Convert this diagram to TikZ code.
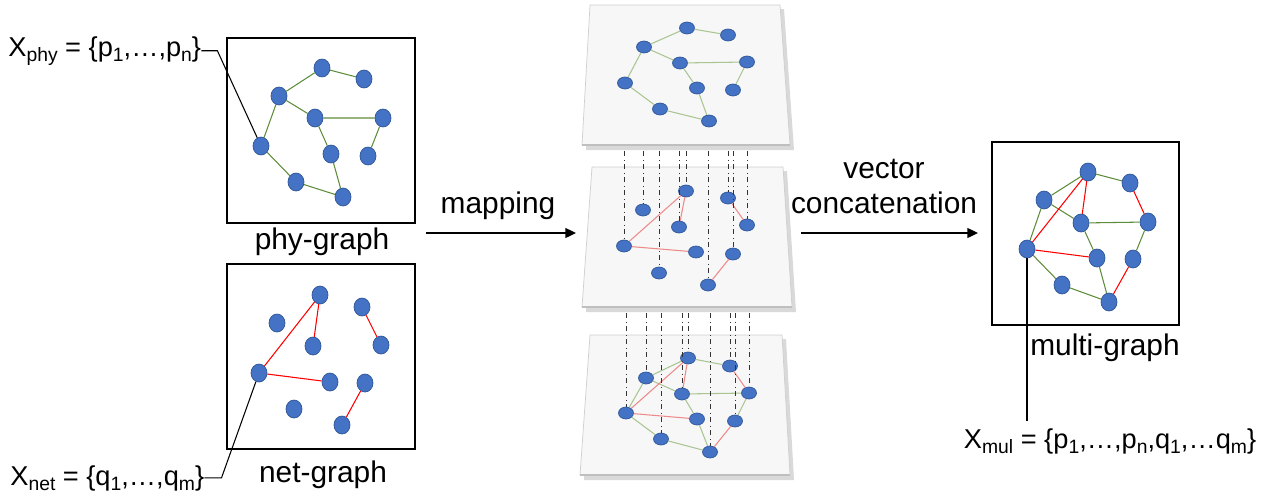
\documentclass[tikz,border=0pt]{standalone}
\usepackage{fontspec}
\setmainfont{Liberation Sans}
\usepackage{tikz}
\usetikzlibrary{arrows.meta}
\usetikzlibrary{shapes.geometric}

\definecolor{nodeblue}{HTML}{4472C4}
\definecolor{nodeedge}{HTML}{2F5597}
\definecolor{phygreen}{HTML}{5E8C3A}
\definecolor{palegreen}{HTML}{A8C592}
\definecolor{netred}{HTML}{FF0000}
\definecolor{palered}{HTML}{EE8A8A}
\definecolor{sheet}{HTML}{F7F7F7}
\definecolor{sheetedge}{HTML}{CFCFCF}

\newcommand{\lowidx}[1]{\raisebox{-3pt}{\fontsize{11}{11}\selectfont #1}}

\begin{document}
\begin{tikzpicture}[x=0.02cm, y=-0.02cm,
  paths/.style={-{Triangle[length=6pt, width=5.5pt]}, line width=1.1pt},
  vertex/.style={ellipse, fill=nodeblue, draw=nodeedge, line width=0.4pt,
    minimum width=0.32cm, minimum height=0.36cm, inner sep=0pt},
  flat_vertex/.style={vertex, minimum width=0.3cm, minimum height=0.24cm},
  phy_edge/.style={phygreen, line width=0.6pt},
  net_edge/.style={netred, line width=0.6pt},
  pale_phy/.style={palegreen, line width=0.6pt},
  pale_net/.style={palered, line width=0.6pt},
  mapping_line/.style={dash dot, line width=0.5pt, black!80},
  label_line/.style={line width=0.6pt},
  big_text/.style={font=\fontsize{17}{20}\selectfont, inner sep=0pt},
  set_text/.style={font=\fontsize{15.5}{18}\selectfont, inner sep=0pt}]

 \useasboundingbox (0,0) rectangle (1266,497);

 % sheets
 \fill [black!15] (594,9) -- (784,9) -- (794,150) -- (586,150) -- cycle;
 \fill [sheet, draw=sheetedge] (590,5) -- (780,5) -- (790,145) -- (582,145) -- cycle;
 \draw [black!25, line width=1.5pt] (582,145) -- (790,145);
 \fill [black!15] (596,171) -- (787,171) -- (796,312) -- (586,312) -- cycle;
 \fill [sheet, draw=sheetedge] (592,167) -- (783,167) -- (792,307) -- (582,307) -- cycle;
 \draw [black!25, line width=1.5pt] (582,307) -- (792,307);
 \fill [black!15] (594,339) -- (786,339) -- (794,480) -- (584,480) -- cycle;
 \fill [sheet, draw=sheetedge] (590,335) -- (782,335) -- (790,475) -- (580,475) -- cycle;
 \draw [black!25, line width=1.5pt] (580,475) -- (790,475);

 \coordinate (gap_1) at (0,151);
 \coordinate (gap_2) at (0,313);

 % boxes
 \draw [label_line] (227,38) rectangle (415,223);
 \draw [label_line] (227,264) rectangle (415,449);
 \draw [label_line] (992,142) rectangle (1179,325);

 % phy-graph
 \node [vertex] (phy_1) at (322,68) {};
 \node [vertex] (phy_2) at (364,79) {};
 \node [vertex] (phy_3) at (279,96) {};
 \node [vertex] (phy_4) at (315,118) {};
 \node [vertex] (phy_5) at (383,118) {};
 \node [vertex] (phy_6) at (261,146) {};
 \node [vertex] (phy_7) at (331,154) {};
 \node [vertex] (phy_8) at (368,156) {};
 \node [vertex] (phy_9) at (296,182) {};
 \node [vertex] (phy_10) at (343,197) {};

 % net-graph
 \node [vertex] (net_1) at (320,295) {};
 \node [vertex] (net_2) at (362,307) {};
 \node [vertex] (net_3) at (277,323) {};
 \node [vertex] (net_4) at (313,346) {};
 \node [vertex] (net_5) at (381,345) {};
 \node [vertex] (net_6) at (259,373) {};
 \node [vertex] (net_7) at (330,382) {};
 \node [vertex] (net_8) at (365,383) {};
 \node [vertex] (net_9) at (294,409) {};
 \node [vertex] (net_10) at (342,425) {};

 % multi-graph
 \node [vertex] (mul_1) at (1088,172) {};
 \node [vertex] (mul_2) at (1130,183) {};
 \node [vertex] (mul_3) at (1044,200) {};
 \node [vertex] (mul_4) at (1081,223) {};
 \node [vertex] (mul_5) at (1148,222) {};
 \node [vertex] (mul_6) at (1027,249) {};
 \node [vertex] (mul_7) at (1097,258) {};
 \node [vertex] (mul_8) at (1133,259) {};
 \node [vertex] (mul_9) at (1062,285) {};
 \node [vertex] (mul_10) at (1109,302) {};

 % top sheet
 \node [flat_vertex] (top_1) at (687,28) {};
 \node [flat_vertex] (top_2) at (728,35) {};
 \node [flat_vertex] (top_3) at (644,47) {};
 \node [flat_vertex] (top_4) at (680,63) {};
 \node [flat_vertex] (top_5) at (747,62) {};
 \node [flat_vertex] (top_6) at (625,83) {};
 \node [flat_vertex] (top_7) at (697,88) {};
 \node [flat_vertex] (top_8) at (733,90) {};
 \node [flat_vertex] (top_9) at (660,109) {};
 \node [flat_vertex] (top_10) at (709,121) {};

 % middle sheet
 \node [flat_vertex] (mid_1) at (686,191) {};
 \node [flat_vertex] (mid_2) at (728,198) {};
 \node [flat_vertex] (mid_3) at (643,210) {};
 \node [flat_vertex] (mid_4) at (679,227) {};
 \node [flat_vertex] (mid_5) at (747,225) {};
 \node [flat_vertex] (mid_6) at (624,246) {};
 \node [flat_vertex] (mid_7) at (696,252) {};
 \node [flat_vertex] (mid_8) at (733,254) {};
 \node [flat_vertex] (mid_9) at (659,273) {};
 \node [flat_vertex] (mid_10) at (708,285) {};

 % bottom sheet
 \node [flat_vertex] (bot_1) at (688,358) {};
 \node [flat_vertex] (bot_2) at (730,366) {};
 \node [flat_vertex] (bot_3) at (646,378) {};
 \node [flat_vertex] (bot_4) at (682,394) {};
 \node [flat_vertex] (bot_5) at (749,393) {};
 \node [flat_vertex] (bot_6) at (626,413) {};
 \node [flat_vertex] (bot_7) at (697,419) {};
 \node [flat_vertex] (bot_8) at (735,421) {};
 \node [flat_vertex] (bot_9) at (661,439) {};
 \node [flat_vertex] (bot_10) at (710,452) {};

 \draw [phy_edge] (phy_1) -- (phy_2) (phy_3) -- (phy_1) (phy_3) -- (phy_4)
   (phy_4) -- (phy_5) (phy_5) -- (phy_8) (phy_4) -- (phy_7) (phy_7) -- (phy_10)
   (phy_3) -- (phy_6) (phy_6) -- (phy_9) (phy_9) -- (phy_10);
 \draw [net_edge] (net_6) -- (net_1) (net_1) -- (net_4) (net_2) -- (net_5)
   (net_6) -- (net_7) (net_8) -- (net_10);
 \draw [phy_edge] (mul_1) -- (mul_2) (mul_3) -- (mul_1) (mul_3) -- (mul_4)
   (mul_4) -- (mul_5) (mul_5) -- (mul_8) (mul_4) -- (mul_7) (mul_7) -- (mul_10)
   (mul_3) -- (mul_6) (mul_6) -- (mul_9) (mul_9) -- (mul_10);
 \draw [net_edge] (mul_6) -- (mul_1) (mul_1) -- (mul_4) (mul_2) -- (mul_5)
   (mul_6) -- (mul_7) (mul_8) -- (mul_10);
 \draw [pale_phy] (top_1) -- (top_2) (top_3) -- (top_1) (top_3) -- (top_4)
   (top_4) -- (top_5) (top_5) -- (top_8) (top_4) -- (top_7) (top_7) -- (top_10)
   (top_3) -- (top_6) (top_6) -- (top_9) (top_9) -- (top_10);
 \draw [pale_net] (mid_6) -- (mid_1) (mid_1) -- (mid_4) (mid_2) -- (mid_5)
   (mid_6) -- (mid_7) (mid_8) -- (mid_10);
 \draw [pale_phy] (bot_1) -- (bot_2) (bot_3) -- (bot_1) (bot_3) -- (bot_4)
   (bot_4) -- (bot_5) (bot_5) -- (bot_8) (bot_4) -- (bot_7) (bot_7) -- (bot_10)
   (bot_3) -- (bot_6) (bot_6) -- (bot_9) (bot_9) -- (bot_10);
 \draw [pale_net] (bot_6) -- (bot_1) (bot_1) -- (bot_4) (bot_2) -- (bot_5)
   (bot_6) -- (bot_7) (bot_8) -- (bot_10);

 \draw [mapping_line] (mid_6 |- gap_1) -- (mid_6);
 \draw [mapping_line] (mid_3 |- gap_1) -- (mid_3);
 \draw [mapping_line] (mid_9 |- gap_1) -- (mid_9);
 \draw [mapping_line] (mid_4 |- gap_1) -- (mid_4);
 \draw [mapping_line] (mid_1 |- gap_1) -- (mid_1);
 \draw [mapping_line] (mid_10 |- gap_1) -- (mid_10);
 \draw [mapping_line] (mid_2 |- gap_1) -- (mid_2);
 \draw [mapping_line] (mid_8 |- gap_1) -- (mid_8);
 \draw [mapping_line] (mid_5 |- gap_1) -- (mid_5);
 \draw [mapping_line] (bot_6 |- gap_2) -- (bot_6);
 \draw [mapping_line] (bot_3 |- gap_2) -- (bot_3);
 \draw [mapping_line] (bot_9 |- gap_2) -- (bot_9);
 \draw [mapping_line] (bot_4 |- gap_2) -- (bot_4);
 \draw [mapping_line] (bot_1 |- gap_2) -- (bot_1);
 \draw [mapping_line] (bot_10 |- gap_2) -- (bot_10);
 \draw [mapping_line] (bot_2 |- gap_2) -- (bot_2);
 \draw [mapping_line] (bot_8 |- gap_2) -- (bot_8);
 \draw [mapping_line] (bot_5 |- gap_2) -- (bot_5);

 % texts
 \node [big_text, anchor=base] (phy_name) at (322,249) {phy-graph};
 \node [big_text, anchor=base] (net_name) at (323,482) {net-graph};
 \node [big_text, anchor=base] (mul_name) at (1105,355) {multi-graph};
 \node [big_text, anchor=base] (map_name) at (498,213) {mapping};
 \node [big_text, anchor=base] (vec_name) at (884,178) {vector};
 \node [big_text, anchor=base] (cat_name) at (884,213) {concatenation};

 \node [set_text, anchor=base west] (x_phy) at (8,56)
     {X\lowidx{phy} = \{p\lowidx{1},…,p\lowidx{n}\}};
 \node [set_text, anchor=base west] (x_net) at (10,485)
     {X\lowidx{net} = \{q\lowidx{1},…,q\lowidx{m}\}};
 \node [set_text, anchor=base] (x_mul) at (1110,448)
     {X\lowidx{mul} = \{p\lowidx{1},…,p\lowidx{n},q\lowidx{1},…q\lowidx{m}\}};

 \draw [label_line] (x_phy.east) -- ++(16,0) -- (phy_6);
 \draw [label_line] (x_net.east) -- ++(17,0) -- (net_6);
 \draw [label_line] (mul_6) -- ([yshift=4pt]mul_6 |- x_mul.north);

 \coordinate (map_from) at (426,233);
 \coordinate (map_to) at (576,233);
 \coordinate (cat_from) at (801,233);
 \coordinate (cat_to) at (978,233);
 \draw [paths] (map_from) -- (map_to);
 \draw [paths] (cat_from) -- (cat_to);

\end{tikzpicture}
\end{document}
